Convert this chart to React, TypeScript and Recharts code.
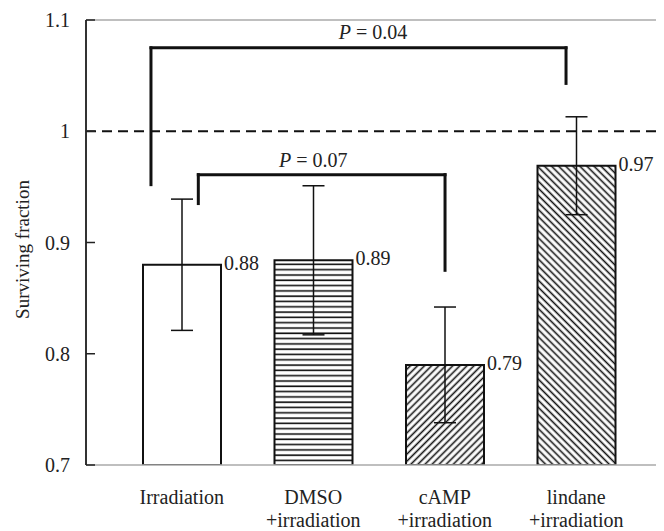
import { BarChart, Bar, XAxis, YAxis, ErrorBar, Cell, LabelList, ReferenceLine, ReferenceDot, Label } from 'recharts';

const FONT = 'Liberation Serif, Times New Roman, serif';

const groups = ['Irradiation', 'DMSO +irradiation', 'cAMP +irradiation', 'lindane +irradiation'];
const means = [0.88, 0.884, 0.79, 0.969];
const errors = [0.059, 0.067, 0.052, 0.044];
const valueLabels = ['0.88', '0.89', '0.79', '0.97'];
const fills = ['#fff', 'url(#hatchH)', 'url(#hatchF)', 'url(#hatchB)'];
const yTicks = [0.7, 0.8, 0.9, 1, 1.1];

// significance brackets; x measured in bar-index units (0 = first bar centre)
const bracketP = ['0.04', '0.07'];
const bracketLeft = [[-0.234, 0.952], [0.126, 0.935]];
const bracketTop = [1.075, 0.961];
const bracketRight = [[2.922, 1.043], [2.002, 0.875]];
const bracketText = [[1.454, 1.083], [1.0, 0.968]];

const data = groups.map((g, i) => ({ name: g, pos: i, value: means[i], err: errors[i], label: valueLabels[i] }));

const txt = { fontFamily: FONT, fontSize: 20, fill: '#222' };

function YTick({ x, y, payload }: any) {
  return (
    <g>
      <line x1={x} x2={x + 9} y1={y} y2={y} stroke="#222" strokeWidth={1.5} />
      <text x={x - 16} y={y + 7} textAnchor="end" style={txt}>
        {String(payload.value)}
      </text>
    </g>
  );
}

function XTick({ x, y, payload }: any) {
  const lines = String(payload.value).split(' ');
  return (
    <text x={x} y={y} textAnchor="middle" style={txt}>
      {lines.map((l, i) => (
        <tspan key={i} x={x} dy={i === 0 ? 39 : 22.5}>{l}</tspan>
      ))}
    </text>
  );
}

const renderValue = (props: any) => {
  const { x, y, width, value } = props;
  return (
    <text x={x + width + 3} y={y + 5} style={txt}>
      {value}
    </text>
  );
};

const pLabel = (p: string) => (props: any) => {
  const vb = props.viewBox;
  return (
    <text x={vb.x + vb.width / 2} y={vb.y + vb.height / 2} textAnchor="middle" style={txt}>
      <tspan fontStyle="italic">P</tspan> = {p}
    </text>
  );
};

const bracketLine = { xAxisId: 'pos', stroke: '#111', strokeWidth: 3, strokeLinecap: 'square' as const };

export default function App() {
  return (
    <BarChart width={656} height={523} data={data} margin={{ top: 12, right: 0, bottom: 0, left: 0 }}>
      <defs>
        <pattern id="hatchH" width="6" height="5.3" patternUnits="userSpaceOnUse">
          <rect width="6" height="5.3" fill="#fff" />
          <line x1="0" y1="2" x2="6" y2="2" stroke="#111" strokeWidth="1.6" />
        </pattern>
        <pattern id="hatchF" width="5" height="5" patternUnits="userSpaceOnUse" patternTransform="rotate(45)">
          <rect width="5" height="5" fill="#fff" />
          <line x1="2.5" y1="0" x2="2.5" y2="5" stroke="#111" strokeWidth="1.6" />
        </pattern>
        <pattern id="hatchB" width="5" height="5" patternUnits="userSpaceOnUse" patternTransform="rotate(-45)">
          <rect width="5" height="5" fill="#fff" />
          <line x1="2.5" y1="0" x2="2.5" y2="5" stroke="#111" strokeWidth="1.6" />
        </pattern>
      </defs>
      <XAxis
        dataKey="name"
        height={66}
        padding={{ left: 30, right: 22 }}
        axisLine={{ stroke: '#aaa', strokeWidth: 1.5 }}
        tickLine={false}
        tickSize={0}
        tickMargin={0}
        tick={<XTick />}
        interval={0}
      />
      <XAxis xAxisId="pos" dataKey="pos" type="number" domain={[-0.728, 3.667]} allowDataOverflow hide />
      <YAxis
        width={78}
        domain={[0.7, 1.1]}
        ticks={yTicks}
        allowDataOverflow
        axisLine={{ stroke: '#333', strokeWidth: 2 }}
        tickLine={false}
        tickSize={0}
        tickMargin={0}
        tick={<YTick />}
      >
        <Label
          content={({ viewBox }: any) => {
            const cx = viewBox.x + 14;
            const cy = viewBox.y + viewBox.height / 2 + 7;
            return (
              <text x={cx} y={cy} transform={`rotate(-90 ${cx} ${cy})`} textAnchor="middle" dominantBaseline="central" style={{ ...txt, fontSize: 19 }}>
                Surviving fraction
              </text>
            );
          }}
        />
      </YAxis>
      <ReferenceLine y={1.1} stroke="#aaa" strokeWidth={1.5} />
      <ReferenceLine y={1} stroke="#111" strokeWidth={2} strokeDasharray="10 6" />
      <Bar dataKey="value" barSize={78} stroke="#111" strokeWidth={2} isAnimationActive={false}>
        {data.map((d, i) => (
          <Cell key={d.name} fill={fills[i]} />
        ))}
        <ErrorBar dataKey="err" width={11} stroke="#111" strokeWidth={1.5} direction="y" />
        <LabelList dataKey="label" content={renderValue} />
      </Bar>
      {bracketP.map((p, i) => [
        <ReferenceLine key={`l${i}`} {...bracketLine} segment={[{ x: bracketLeft[i][0], y: bracketLeft[i][1] }, { x: bracketLeft[i][0], y: bracketTop[i] }]} />,
        <ReferenceLine key={`t${i}`} {...bracketLine} segment={[{ x: bracketLeft[i][0], y: bracketTop[i] }, { x: bracketRight[i][0], y: bracketTop[i] }]} />,
        <ReferenceLine key={`r${i}`} {...bracketLine} segment={[{ x: bracketRight[i][0], y: bracketTop[i] }, { x: bracketRight[i][0], y: bracketRight[i][1] }]} />,
        <ReferenceDot key={`p${i}`} xAxisId="pos" x={bracketText[i][0]} y={bracketText[i][1]} r={0} fill="none" stroke="none" label={pLabel(p)} />,
      ])}
    </BarChart>
  );
}
